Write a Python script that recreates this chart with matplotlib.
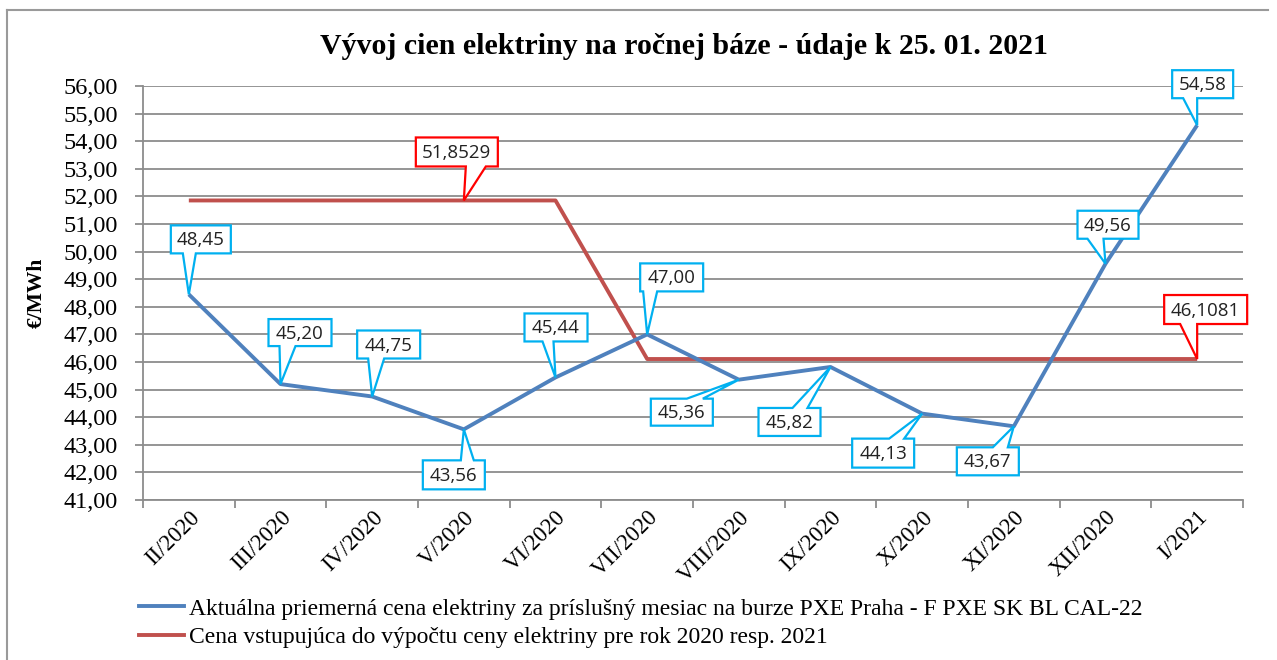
import matplotlib
matplotlib.use("Agg")
import matplotlib.pyplot as plt
import matplotlib.transforms as mtransforms
from matplotlib.patches import Polygon
from matplotlib.lines import Line2D

# data
months = ["II/2020", "III/2020", "IV/2020", "V/2020", "VI/2020", "VII/2020",
          "VIII/2020", "IX/2020", "X/2020", "XI/2020", "XII/2020", "I/2021"]
pxe_price = [48.45, 45.20, 44.75, 43.56, 45.44, 47.00, 45.36, 45.82, 44.13, 43.67, 49.56, 54.58]
input_price = [51.8529, 51.8529, 51.8529, 51.8529, 51.8529,
               46.1081, 46.1081, 46.1081, 46.1081, 46.1081, 46.1081, 46.1081]
input_labels = {3: "51,8529", 11: "46,1081"}

title = "Vývoj cien elektriny na ročnej báze - údaje k 25. 01. 2021"
legend_labels = ["Aktuálna priemerná cena elektriny za príslušný mesiac na burze PXE Praha - F PXE SK BL CAL-22",
                 "Cena vstupujúca do výpočtu ceny elektriny pre rok 2020 resp. 2021"]

# callout boxes (pixels relative to the point, image y down): left, right, top, bottom, base0, base1
blue_boxes = [(-18, 42, -69, -41, -6, 7), (-12, 51, -65, -38, -1, 15), (-15, 48, -66, -38, -4, 12),
              (-41, 21, 31, 60, -3, 10), (-31, 32, -64, -36, -13, -2), (-7, 56, -71, -43, -4, 10),
              (-88, -26, 19, 46, -52, -36), (-72, -10, 41, 69, -38, -23), (-70, -8, 25, 54, -33, -18),
              (-57, 5, 21, 49, -21, -6), (-28, 33, -53, -25, -18, -2), (-25, 36, -55, -27, -14, 0)]
red_boxes = {3: (-48, 34, -63, -34, 2, 22), 11: (-33, 50, -64, -35, -17, 0)}

BLUE = "#4F81BD"
RED = "#C0504D"
GRID = "#8C8C8C"
serif = ["Liberation Serif", "DejaVu Serif"]

W, H = 1277, 660
fig = plt.figure(figsize=(W / 100, H / 100), dpi=100)
ax = fig.add_axes([143 / W, 1 - 500 / H, 1100 / W, 414 / H])

x = list(range(len(months)))
ax.plot(x, input_price, color=RED, lw=2.8, solid_capstyle="butt", zorder=3)
ax.plot(x, pxe_price, color=BLUE, lw=2.8, solid_capstyle="butt", zorder=4)

ax.set_xlim(-0.5, len(months) - 0.5)
ax.set_ylim(41, 56)
yt = list(range(41, 57))
ax.set_yticks(yt)
ax.set_yticklabels([f"{v:.2f}".replace(".", ",") for v in yt], fontfamily=serif, fontsize=17.5)
ax.set_xticks(x)
ax.set_xticklabels(months, rotation=45, ha="right", va="top", rotation_mode="anchor",
                   fontfamily=serif, fontsize=16.5)
ax.set_xticks([i - 0.5 for i in range(len(months) + 1)], minor=True)
ax.tick_params(axis="x", which="major", length=0, pad=5)
ax.tick_params(axis="x", which="minor", length=6, color=GRID, width=1.3)
ax.tick_params(axis="y", length=6, color=GRID, width=1.3, pad=12)
ax.grid(axis="y", color=GRID, lw=1.3)
ax.set_axisbelow(True)
for s in ["top", "right"]:
    ax.spines[s].set_visible(False)
for s in ["left", "bottom"]:
    ax.spines[s].set_color(GRID)
    ax.spines[s].set_linewidth(1.3)

ax.set_ylabel("€/MWh", fontfamily=serif, fontsize=15.5, fontweight="bold", labelpad=12)
fig.text(684 / W, 1 - 47 / H, title, ha="center", va="center", fontfamily=serif,
         fontsize=21.5, fontweight="bold")


def callout(xi, yv, text, spec, color):
    L, R, T, B, b0, b1 = spec
    top_up, bot_up = -T, -B
    if bot_up > 0:  # box above the point, pointer from its bottom edge
        edge, far = bot_up, top_up
    else:  # box below the point, pointer from its top edge
        edge, far = top_up, bot_up
    verts = [(L, edge), (b0, edge), (0, 0), (b1, edge), (R, edge), (R, far), (L, far)]
    tr = mtransforms.Affine2D() + mtransforms.ScaledTranslation(xi, yv, ax.transData)
    ax.add_patch(Polygon(verts, closed=True, transform=tr, fc="white", ec=color,
                         lw=1.6, zorder=6, clip_on=False, joinstyle="miter"))
    ax.text((L + R) / 2, (top_up + bot_up) / 2 - 1, text, transform=tr, ha="center", va="center",
            fontfamily="Open Sans", fontsize=13.5, color="#222222", zorder=7)


for i, v in enumerate(pxe_price):
    callout(i, v, f"{v:.2f}".replace(".", ","), blue_boxes[i], "#00B0F0")
for i, lab in input_labels.items():
    callout(i, input_price[i], lab, red_boxes[i], "#FF0000")

handles = [Line2D([], [], color=BLUE, lw=2.8), Line2D([], [], color=RED, lw=2.8)]
fig.legend(handles, legend_labels, loc="upper left", bbox_to_anchor=(139 / W, 1 - 598 / H),
           frameon=False, prop={"family": serif, "size": 17}, handlelength=1.9,
           handletextpad=0.2, labelspacing=0.3, borderaxespad=0, borderpad=0)

fig.add_artist(Line2D([7 / W, 7 / W], [0, 1 - 10 / H], transform=fig.transFigure, color="#9A9A9A", lw=1.5))
fig.add_artist(Line2D([7 / W, 1268 / W], [1 - 10 / H, 1 - 10 / H], transform=fig.transFigure, color="#9A9A9A", lw=1.5))

fig.savefig("out.png", dpi=100)
